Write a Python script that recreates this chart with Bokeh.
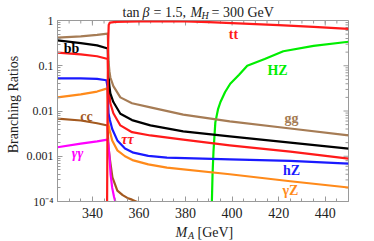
import math
from bokeh.plotting import figure
from bokeh.models import (Range1d, FixedTicker, CustomJSTickFormatter, ColumnDataSource)
from bokeh.core.properties import value
from bokeh.embed import file_html
from bokeh.resources import INLINE

# ---------------- data ----------------
X_TT = [346.3, 346.5, 346.7, 347.0, 347.5, 350, 360, 375, 380, 390, 400, 420, 435, 450]
BR_TT = [0.00008, 0.01, 0.25, 0.80, 0.90, 0.93, 0.955, 0.96, 0.95, 0.92, 0.875, 0.79, 0.72, 0.65]

X_GG = [325, 335, 342, 346.6, 346.9, 347.3, 347.7, 349, 352, 357, 364.9, 379, 399, 425, 450]
BR_GG = [0.417, 0.447, 0.479, 0.513, 0.126, 0.076, 0.055, 0.0355, 0.020, 0.0148, 0.0120, 0.0083, 0.0059, 0.0041, 0.0029]

X_BB = [325, 335, 342, 346.6, 346.9, 347.3, 347.7, 349, 352, 357, 364.9, 379, 399, 425, 450]
BR_BB = [0.363, 0.316, 0.282, 0.240, 0.063, 0.0355, 0.0245, 0.0158, 0.0087, 0.0063, 0.0048, 0.00355, 0.00275, 0.0020, 0.00148]

X_TAU = [325, 335, 342, 346.6, 346.9, 347.3, 347.7, 349, 352, 357, 364.9, 379, 399, 425, 450]
BR_TAU = [0.195, 0.178, 0.162, 0.141, 0.040, 0.0224, 0.0148, 0.0089, 0.0048, 0.0034, 0.00288, 0.00234, 0.00174, 0.00126, 0.00089]

X_HZ_LIGHT = [325, 335, 342, 346.0, 346.6, 346.9, 347.5, 348.5, 350.7, 354, 357.6, 364, 372, 399, 425, 450]
BR_HZ_LIGHT = [0.0525, 0.0525, 0.0513, 0.0479, 0.0316, 0.0089, 0.0063, 0.0040, 0.00224, 0.00148, 0.0012, 0.00102, 0.00093, 0.00085, 0.00079, 0.00069]

X_GZ = [325, 335, 342, 346.4, 346.9, 347.5, 348.5, 350.7, 354, 357.6, 364, 372, 399, 425, 450]
BR_GZ = [0.020, 0.0234, 0.0269, 0.0316, 0.0050, 0.00355, 0.00224, 0.00135, 0.0010, 0.00081, 0.00066, 0.00056, 0.00040, 0.00028, 0.000204]

X_CC = [325, 335, 342, 346.5, 346.9, 347.6, 348.6, 350.7, 353, 355, 357, 360]
BR_CC = [0.00676, 0.00617, 0.00537, 0.00479, 0.00158, 0.00079, 0.00034, 0.000174, 0.000138, 0.00012, 0.00011, 0.0000933]

X_AA = [325, 335, 342, 346.5, 346.9, 347.3, 347.8, 348.5, 349.3, 350.0]
BR_AA = [0.00158, 0.0019, 0.00214, 0.00234, 0.00178, 0.0010, 0.0004, 0.0002, 0.000126, 0.0000933]

X_HZ_HEAVY = [391.3, 391.6, 392.0, 392.8, 394, 395, 397, 399.2, 403, 406.5, 414, 422, 435, 450]
BR_HZ_HEAVY = [0.00009, 0.0004, 0.00126, 0.0056, 0.0112, 0.0158, 0.0263, 0.040, 0.063, 0.10, 0.141, 0.209, 0.275, 0.339]

X_TICKS = [340, 360, 380, 400, 420, 440]
Y_TICKS = [1e-4, 1e-3, 1e-2, 1e-1, 1]

# ---------------- geometry helpers (canvas px -> data) ----------------
XMIN, XMAX, YMIN_LOG, YMAX_LOG = 325, 450, -4, 0
W, H = 374, 241
FRAME_L, FRAME_T, FRAME_R, FRAME_B = 57, 20, 348, 201
FRAME_W, FRAME_H = FRAME_R - FRAME_L, FRAME_B - FRAME_T


def dx(px):
    return XMIN + (px - FRAME_L) * (XMAX - XMIN) / FRAME_W


def dy(py):
    return 10 ** (YMAX_LOG - (py - FRAME_T) * (YMAX_LOG - YMIN_LOG) / FRAME_H)


SERIF = "Liberation Serif"
GRAY = "#9a9a9a"
INK = "#222222"

p = figure(width=W, height=H, x_range=Range1d(XMIN, XMAX), y_range=Range1d(1e-4, 1),
           y_axis_type="log", output_backend="svg", toolbar_location=None,
           min_border_left=FRAME_L, min_border_right=W - FRAME_R,
           min_border_top=FRAME_T, min_border_bottom=H - FRAME_B)
p.grid.visible = False
p.outline_line_color = GRAY
p.background_fill_color = "white"
p.border_fill_color = "white"

x_minor = list(range(325, 451, 5))
y_minor = [k * 10.0 ** e for e in range(-4, 0) for k in range(2, 10)]

ylab = CustomJSTickFormatter(code="""
const m = {"0":"1","-1":"0.1","-2":"0.01","-3":"0.001","-4":"10\u207b\u2074"};
return m[String(Math.round(Math.log10(tick)))] || "";
""")

for ax in (p.xaxis[0], p.yaxis[0]):
    ax.axis_line_color = GRAY
    ax.major_tick_line_color = GRAY
    ax.minor_tick_line_color = GRAY
    ax.major_tick_in = 5
    ax.major_tick_out = 0
    ax.minor_tick_in = 3
    ax.minor_tick_out = 0
    ax.major_label_text_font = SERIF
    ax.major_label_text_color = INK

p.xaxis.major_label_text_font_size = "14px"
p.xaxis.major_label_standoff = 6
p.yaxis.major_label_text_font_size = "12px"
p.yaxis.major_label_standoff = 4

p.xaxis.ticker = FixedTicker(ticks=X_TICKS, minor_ticks=x_minor)
p.yaxis.ticker = FixedTicker(ticks=Y_TICKS, minor_ticks=y_minor)
p.yaxis.formatter = ylab

# frame ticks on top and right sides (Mathematica-style frame)
p.segment(x0=X_TICKS, y0=[1] * len(X_TICKS), x1=X_TICKS, y1=[dy(FRAME_T + 5)] * len(X_TICKS),
          line_color=GRAY, line_width=1)
p.segment(x0=x_minor, y0=[1] * len(x_minor), x1=x_minor, y1=[dy(FRAME_T + 3)] * len(x_minor),
          line_color=GRAY, line_width=1)
p.segment(x0=[XMAX] * len(Y_TICKS), y0=Y_TICKS, x1=[dx(FRAME_R - 5)] * len(Y_TICKS),
          y1=Y_TICKS, line_color=GRAY, line_width=1)
p.segment(x0=[XMAX] * len(y_minor), y0=y_minor, x1=[dx(FRAME_R - 3)] * len(y_minor),
          y1=y_minor, line_color=GRAY, line_width=1)

# ---------------- curves ----------------
LW = 2.2
curves = [
    (X_HZ_HEAVY, BR_HZ_HEAVY, "#00ee00"),
    (X_CC, BR_CC, "#a3591f"),
    (X_AA, BR_AA, "#ff00ff"),
    (X_GZ, BR_GZ, "#ff8a1a"),
    (X_HZ_LIGHT, BR_HZ_LIGHT, "#1a1aff"),
    (X_TAU, BR_TAU, "#ff1a1a"),
    (X_BB, BR_BB, "#000000"),
    (X_GG, BR_GG, "#a67c55"),
    (X_TT, BR_TT, "#ff1a1a"),
]
for xs, ys, col in curves:
    p.line(xs, ys, line_color=col, line_width=LW, line_join="round")

text_renderers = []

# ---------------- curve labels ----------------
lab_plain = ColumnDataSource(dict(
    x=[dx(233), dx(277), dx(291), dx(71), dx(86), dx(291), dx(290)],
    y=[dy(34), dy(70), dy(118), dy(48), dy(116), dy(170), dy(190)],
    t=["tt", "HZ", "gg", "bb", "cc", "hZ", "\u03b3Z"],
    c=["#ff1a1a", "#00ee00", "#a67c55", "#000000", "#a3591f", "#1a1aff", "#ff8a1a"],
))
text_renderers.append(p.text(x="x", y="y", text="t", text_color="c", source=lab_plain,
                             text_font=value(SERIF), text_font_style="bold", text_font_size="14px",
                             text_align="center", text_baseline="middle"))

lab_greek = ColumnDataSource(dict(
    x=[dx(127), dx(77)],
    y=[dy(139), dy(153)],
    t=["\u03c4\u03c4", "\u03b3\u03b3"],
    c=["#ff1a1a", "#ff00ff"],
))
text_renderers.append(p.text(x="x", y="y", text="t", text_color="c", source=lab_greek,
                             text_font=value(SERIF), text_font_style="bold italic",
                             text_font_size="14px", text_align="center", text_baseline="middle"))

# ---------------- title and axis titles ----------------
texts = ColumnDataSource(dict(
    x=[dx(122), dx(142), dx(153), dx(190), dx(211), dx(175), dx(197)],
    y=[dy(12), dy(12), dy(12), dy(12), dy(12), dy(232), dy(232)],
    t=["tan", "\u03b2", "= 1.5,", "M", "= 300 GeV", "M", "[GeV]"],
    s=["normal", "italic", "normal", "italic", "normal", "italic", "normal"],
))
text_renderers.append(p.text(x="x", y="y", text="t", text_font_style="s", source=texts,
                             text_font=value(SERIF), text_font_size="14px", text_color=INK,
                             text_align="left", text_baseline="alphabetic"))

subs = ColumnDataSource(dict(
    x=[dx(201), dx(187.5)],
    y=[dy(15), dy(234.5)],
    t=["H", "A"],
))
text_renderers.append(p.text(x="x", y="y", text="t", source=subs, text_font=value(SERIF),
                             text_font_style="italic", text_font_size="10px", text_color=INK,
                             text_align="left", text_baseline="alphabetic"))

text_renderers.append(p.text(x=[dx(13)], y=[dy(104)], text=["Branching Ratios"], angle=math.pi / 2,
                             text_font=value(SERIF), text_font_size="14px", text_color=INK,
                             text_align="center", text_baseline="alphabetic"))

# text outside the frame must not be clipped
for r in text_renderers:
    r.level = "overlay"

open("out.html", "w").write(file_html(p, INLINE))
